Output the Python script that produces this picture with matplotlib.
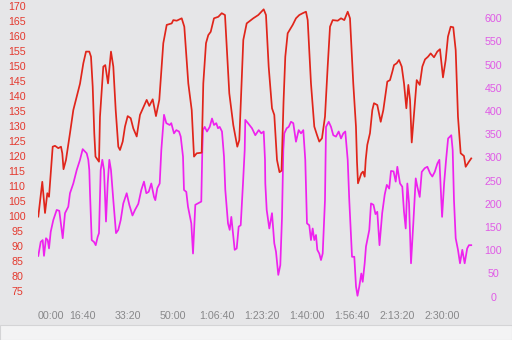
import matplotlib
matplotlib.use("Agg")
import matplotlib.pyplot as plt
from matplotlib.patches import Rectangle

# heart rate (bpm) over time (s)
hr_t = [13, 102, 163, 214, 252, 274, 334, 385, 459, 519, 548, 575, 630, 719, 793, 869, 942,
        1016, 1076, 1149, 1187, 1225, 1260, 1287, 1365, 1387, 1461, 1505, 1566, 1632, 1684,
        1737, 1795, 1833, 1893, 1944, 2004, 2071, 2129, 2205, 2278, 2427, 2485, 2561, 2634,
        2708, 2797, 2873, 2984, 3020, 3096, 3207, 3265, 3354, 3430, 3481, 3541, 3652, 3688,
        3748, 3799, 3853, 3926, 4022, 4098, 4171, 4267, 4356, 4445, 4490, 4579, 4654, 4801,
        4913, 5033, 5084, 5144, 5218, 5269, 5329, 5385, 5430, 5475, 5514, 5567, 5679, 5752,
        5826, 5902, 5975, 6013, 6086, 6160, 6220, 6271, 6331, 6398, 6458, 6510, 6570, 6681,
        6755, 6828, 6904, 6955, 7028, 7088, 7111, 7133, 7207, 7245, 7282, 7305, 7340, 7400,
        7452, 7489, 7563, 7639, 7697, 7786, 7846, 7898, 7935, 7995, 8047, 8107, 8158, 8210,
        8254, 8292, 8330, 8381, 8441, 8508, 8566, 8626, 8693, 8752, 8826, 8899, 8959, 9026,
        9086, 9137, 9197, 9255, 9309, 9360, 9420, 9493, 9531, 9604, 9655]
hr = [99.7, 111.3, 100.9, 107.5, 106.3, 110.8, 123, 123.3, 122.5, 123, 120.8, 115.5, 118.6,
      127.5, 135.2, 139.7, 144, 150.8, 154.7, 154.7, 153, 143, 127.5, 119.7, 118, 133, 149.7,
      150.2, 144.1, 154.7, 149.7, 135.2, 123, 121.9, 124.7, 129.7, 133.2, 132.5, 129.1, 126.4,
      133.6, 138.6, 136.6, 138.8, 133.2, 138.6, 157.5, 163.6, 164.1, 165.2, 165, 165.8, 163,
      144.1, 135.2, 119.7, 120.8, 121, 144.1, 157.5, 160.2, 161.3, 165.8, 166.3, 167.5, 166.9,
      140.8, 130.2, 123, 125.2, 158.6, 164.1, 165.8, 166.9, 168.8, 166.9, 149.7, 135.8, 133.6,
      118.6, 114.5, 115, 138, 153, 160.8, 163.6, 165.8, 166.9, 167.5, 168, 165.2, 144.1, 129.7,
      126.9, 124.7, 125.8, 133, 149.7, 163, 165.2, 165, 165.8, 165.2, 168, 165.8, 144.1, 129.7,
      118, 110.8, 114.1, 114.7, 113, 118.6, 123.6, 127.5, 135.2, 137.5, 136.9, 131.3, 135.2,
      144.7, 145.2, 148, 150.2, 150.8, 151.9, 149.7, 144.1, 135.8, 143.6, 138.6, 124.4, 134.1,
      145.2, 143.6, 149.7, 152.1, 153, 154.1, 152.8, 154.7, 155.5, 146.1, 151.9, 159.7, 163,
      162.8, 155.2, 133, 120.8, 119.9, 116.3, 118, 119.1]

# power (W) over time (s)
pw_t = [13, 67, 111, 140, 185, 223, 252, 290, 347, 423, 481, 557, 608, 681, 719, 793, 869, 942,
        1002, 1091, 1127, 1149, 1165, 1203, 1254, 1292, 1336, 1365, 1403, 1439, 1477, 1521,
        1559, 1595, 1632, 1684, 1744, 1795, 1848, 1906, 1982, 2040, 2111, 2167, 2240, 2307,
        2367, 2419, 2472, 2530, 2590, 2619, 2664, 2717, 2753, 2813, 2864, 2940, 2975, 3035,
        3087, 3147, 3185, 3236, 3258, 3309, 3347, 3421, 3459, 3510, 3643, 3666, 3681, 3719,
        3770, 3831, 3882, 3926, 3977, 4015, 4053, 4104, 4149, 4178, 4238, 4276, 4312, 4356,
        4387, 4432, 4476, 4521, 4572, 4610, 4623, 4683, 4772, 4846, 4922, 4980, 5033, 5062,
        5069, 5100, 5158, 5218, 5269, 5307, 5358, 5403, 5441, 5470, 5492, 5545, 5590, 5641,
        5692, 5752, 5812, 5864, 5915, 5959, 5997, 6048, 6086, 6124, 6160, 6198, 6227, 6271,
        6309, 6347, 6398, 6421, 6481, 6532, 6583, 6643, 6703, 6755, 6806, 6850, 6904, 6939,
        7000, 7051, 7089, 7122, 7162, 7207, 7238, 7282, 7311, 7340, 7385, 7423, 7478, 7523,
        7563, 7612, 7672, 7728, 7775, 7828, 7868, 7925, 7973, 8009, 8069, 8120, 8158, 8196,
        8232, 8270, 8314, 8365, 8419, 8455, 8508, 8553, 8620, 8678, 8738, 8789, 8843, 8901,
        8946, 8977, 9006, 9051, 9095, 9140, 9211, 9242, 9271, 9309, 9360, 9405, 9456, 9509,
        9565, 9604, 9655]
pw = [88, 118, 122, 88, 126, 122, 104, 140, 165, 187, 185, 126, 180, 194, 223, 244, 273, 295,
      318, 309, 295, 273, 223, 122, 118, 111, 129, 137, 273, 295, 273, 162, 244, 295, 273, 208,
      137, 144, 165, 201, 223, 198, 175, 187, 200, 230, 248, 223, 226, 244, 215, 208, 234, 244,
      316, 392, 374, 370, 374, 352, 359, 356, 345, 302, 230, 226, 194, 158, 93, 198, 205, 316,
      359, 366, 356, 366, 384, 370, 374, 363, 366, 356, 302, 230, 158, 144, 172, 129, 101, 104,
      151, 154, 244, 316, 381, 374, 363, 348, 359, 352, 356, 295, 244, 187, 147, 180, 115, 97,
      47, 68, 172, 316, 352, 363, 366, 377, 374, 334, 359, 352, 359, 295, 158, 154, 122, 147,
      122, 133, 101, 93, 79, 93, 208, 366, 377, 366, 348, 345, 356, 341, 352, 356, 295, 208,
      86, 86, 22, 2, 22, 50, 32, 72, 108, 122, 144, 201, 198, 178, 183, 111, 180, 220, 241,
      233, 271, 270, 248, 280, 244, 237, 183, 147, 244, 201, 72, 158, 255, 237, 215, 269, 277,
      280, 266, 259, 269, 287, 295, 230, 172, 244, 295, 341, 348, 316, 208, 126, 101, 72, 101,
      72, 104, 111, 111]

hr_ticks = list(range(75, 171, 5))
pw_ticks = list(range(0, 601, 50))
x_ticks = list(range(0, 9001, 1000))


def fmt(s):
    h, r = divmod(s, 3600)
    m, sec = divmod(r, 60)
    if h == 0:
        return "%02d:%02d" % (m, sec)
    return "%d:%02d:%02d" % (h, m, sec)


plt.rcParams['font.family'] = ['Liberation Sans', 'DejaVu Sans']
bg = "#e6e6e8"
red = "#e0251b"
mag = "#ee22ee"

fig = plt.figure(figsize=(5.12, 3.4), dpi=100, facecolor=bg)
fig.patches.append(Rectangle((0, 0), 1, 15 / 340, transform=fig.transFigure,
                             facecolor="#f3f3f4", edgecolor="#d4d4d6", lw=0.8))

ax = fig.add_axes([37.7 / 512, 35 / 340, 437.3 / 512, 305 / 340])
ax.set_facecolor(bg)
ax2 = ax.twinx()

ax.plot(hr_t, hr, color=red, lw=1.25, zorder=3)
ax2.plot(pw_t, pw, color=mag, lw=1.25)
ax.set_zorder(2)
ax.patch.set_visible(False)

ax.set_xlim(0, 9739)
ax.set_ylim(70.23, 171.9)
ax2.set_ylim(-17.9, 639.4)

ax.set_xticks(x_ticks)
ax.set_xticklabels([fmt(t) for t in x_ticks])
ax.get_xticklabels()[0].set_ha("left")
ax.set_yticks(hr_ticks)
ax2.set_yticks(pw_ticks)

ax.tick_params(axis="x", length=0, pad=4.5, labelsize=7.7, labelcolor="#88888a")
ax.tick_params(axis="y", length=0, pad=14.9, labelsize=7.7, labelcolor="#e4392e")
ax2.tick_params(axis="y", length=0, pad=13.3, labelsize=7.7, labelcolor="#e05ae6")
for lab in ax.get_yticklabels():
    lab.set_ha("center")
for lab in ax2.get_yticklabels():
    lab.set_ha("center")

for a in (ax, ax2):
    for sp in a.spines.values():
        sp.set_visible(False)

fig.savefig("out.png", dpi=100, facecolor=bg)
